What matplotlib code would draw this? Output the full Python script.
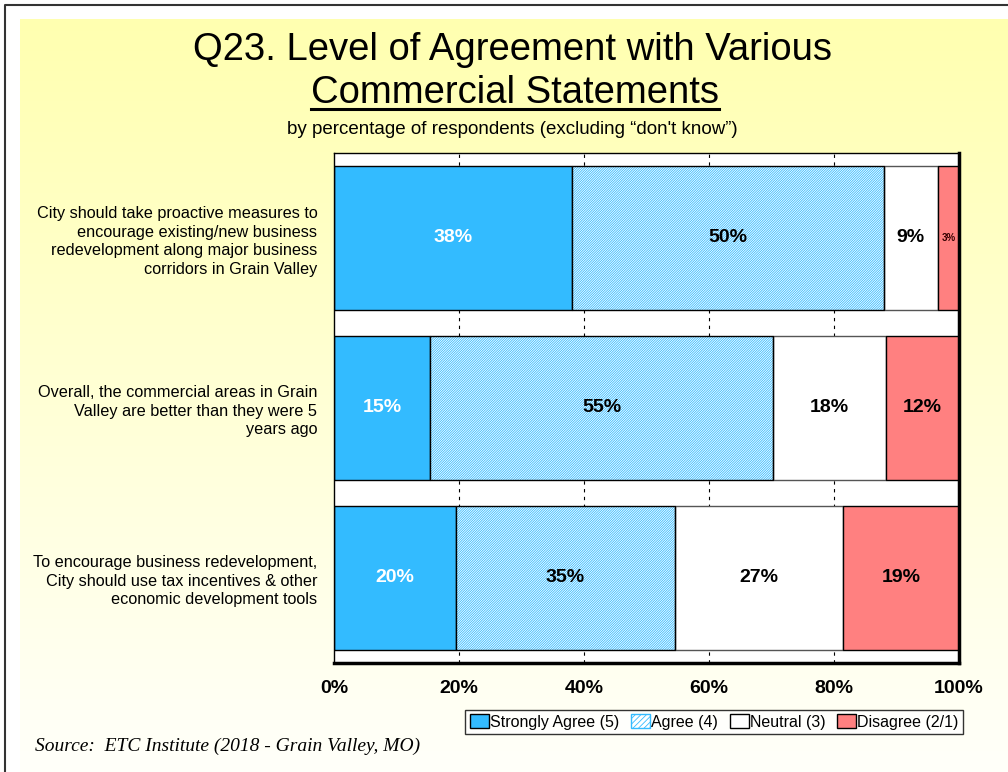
import matplotlib.pyplot as plt
import numpy as np
from matplotlib.patches import Patch

# 数据
statements = [
    "City should take proactive measures to\nencourage existing/new business\nredevelopment along major business\ncorridors in Grain Valley",
    "Overall, the commercial areas in Grain\nValley are better than they were 5\nyears ago",
    "To encourage business redevelopment,\nCity should use tax incentives & other\neconomic development tools",
]
strongly_agree = [38.1, 15.4, 19.5]
agree = [49.9, 54.8, 35.1]
neutral = [8.6, 18.1, 26.8]
disagree = [3.4, 11.7, 18.6]
series_names = ["Strongly Agree (5)", "Agree (4)", "Neutral (3)", "Disagree (2/1)"]
x_ticks = [0, 20, 40, 60, 80, 100]

blue = '#33BBFF'
red = '#FF8080'
hatch = '/' * 14

plt.rcParams['font.family'] = ['Liberation Sans', 'DejaVu Sans']
plt.rcParams['hatch.linewidth'] = 0.6

fig = plt.figure(figsize=(10.08, 7.72), dpi=100)

# 背景渐变
bg = fig.add_axes([20 / 1008, 0, 988 / 1008, 753 / 772])
grad = np.linspace(0, 1, 256).reshape(-1, 1)
top_c = np.array([255, 255, 176]) / 255
bot_c = np.array([255, 255, 250]) / 255
img = top_c[None, None, :] * (1 - grad[:, :, None]) + bot_c[None, None, :] * grad[:, :, None]
bg.imshow(img, aspect='auto', extent=(0, 1, 0, 1))
bg.axis('off')

# 外框 (只有上边和左边)
fig.add_artist(plt.Line2D([5 / 1008, 5 / 1008, 1], [0, 1 - 5 / 772, 1 - 5 / 772],
                          transform=fig.transFigure, color='#333333', linewidth=1.5))

ax = fig.add_axes([334 / 1008, 1 - 663 / 772, 625 / 1008, 510 / 772])
ax.set_facecolor('white')

y = np.arange(len(statements))
h = 0.85
sa = np.array(strongly_agree)
ag = np.array(agree)
ne = np.array(neutral)
di = np.array(disagree)

for xv in x_ticks[1:-1]:
    ax.axvline(xv, color='black', linestyle=(0, (3, 4)), linewidth=0.8, zorder=0)

ax.barh(y, sa, height=h, color=blue, edgecolor='black', linewidth=1, zorder=2)
ax.barh(y, ag, left=sa, height=h, color='white', edgecolor=blue, hatch=hatch, linewidth=0, zorder=2)
ax.barh(y, ag, left=sa, height=h, fill=False, edgecolor='black', linewidth=1, zorder=3)
ax.barh(y, ne, left=sa + ag, height=h, color='white', edgecolor='#555555', linewidth=1, zorder=2)
ax.barh(y, di, left=sa + ag + ne, height=h, color=red, edgecolor='black', linewidth=1, zorder=2)

for i in range(len(statements)):
    ax.text(sa[i] / 2, y[i], f"{sa[i]:.0f}%", ha='center', va='center', color='white',
            fontsize=14, fontweight='bold', zorder=4)
    ax.text(sa[i] + ag[i] / 2, y[i], f"{ag[i]:.0f}%", ha='center', va='center', color='black',
            fontsize=14, fontweight='bold', zorder=4)
    ax.text(sa[i] + ag[i] + ne[i] / 2, y[i], f"{ne[i]:.0f}%", ha='center', va='center', color='black',
            fontsize=14, fontweight='bold', zorder=4)
    fs = 7 if di[i] < 5 else 14
    ax.text(sa[i] + ag[i] + ne[i] + di[i] / 2, y[i], f"{di[i]:.0f}%", ha='center', va='center',
            color='#330000' if di[i] < 5 else 'black', fontsize=fs, fontweight='bold', zorder=4)

ax.set_xlim(0, 100)
ax.set_ylim(len(statements) - 0.5, -0.5)
ax.set_xticks(x_ticks)
ax.set_xticklabels([f"{t}%" for t in x_ticks], fontsize=14, fontweight='bold')
ax.set_yticks(y)
ax.set_yticklabels(statements, fontsize=11.7, linespacing=1.3)
ax.tick_params(axis='both', length=0, pad=12)
ax.tick_params(axis='y', pad=12)
for s in ['left', 'top']:
    ax.spines[s].set_linewidth(1)
for s in ['right', 'bottom']:
    ax.spines[s].set_linewidth(2.5)

# 标题
fig.text(0.508, 1 - 50 / 772, "Q23. Level of Agreement with Various", ha='center', va='center', fontsize=27.5)
t2 = fig.text(0.511, 1 - 93 / 772, "Commercial Statements", ha='center', va='center', fontsize=27.5)
fig.canvas.draw()
bb = t2.get_window_extent()
fig.add_artist(plt.Line2D([bb.x0 / 1008, bb.x1 / 1008], [1 - 109 / 772, 1 - 109 / 772],
                          transform=fig.transFigure, color='black', linewidth=2.2))
fig.text(0.508, 1 - 129 / 772, "by percentage of respondents (excluding \u201cdon't know\u201d)",
         ha='center', va='center', fontsize=13.5)

# 图例
handles = [
    Patch(facecolor=blue, edgecolor='black', label=series_names[0]),
    Patch(facecolor='white', edgecolor=blue, hatch='//////', label=series_names[1]),
    Patch(facecolor='white', edgecolor='black', label=series_names[2]),
    Patch(facecolor=red, edgecolor='black', label=series_names[3]),
]
leg = fig.legend(handles=handles, loc='center', bbox_to_anchor=(714 / 1008, 1 - 722 / 772), ncol=4,
                 fontsize=11.5, frameon=True, fancybox=False, edgecolor='black', handlelength=1.2,
                 handleheight=0.9, handletextpad=0.05, columnspacing=0.75, borderpad=0.3,
                 borderaxespad=0)
leg.get_frame().set_linewidth(1)

fig.text(35 / 1008, 1 - 746 / 772, "Source:  ETC Institute (2018 - Grain Valley, MO)", ha='left', va='center',
         fontsize=14, style='italic', family=['Liberation Serif', 'DejaVu Serif'])

fig.savefig('out.png', dpi=100)
